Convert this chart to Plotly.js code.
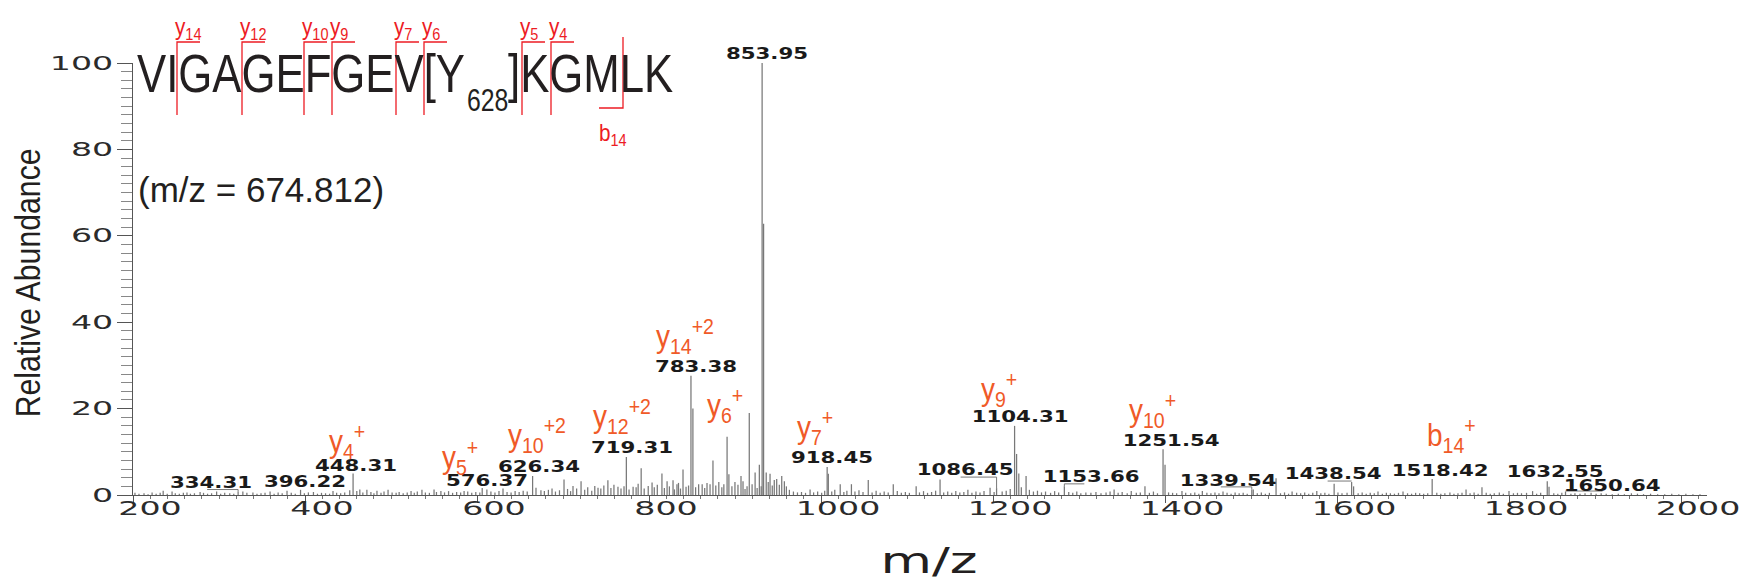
<!DOCTYPE html>
<html><head><meta charset="utf-8">
<script src="https://cdn.plot.ly/plotly-3.0.1.min.js"></script>
<style>body{margin:0;background:#fff}#chart{width:1741px;height:581px}</style>
</head><body><div id="chart"></div>
<script>
// ---------------- DATA ----------------
// labelled peaks (m/z, relative abundance %)
const labeledMz  = [334.31, 396.22, 448.31, 576.37, 626.34, 719.31, 783.38, 853.95, 918.45, 1086.45, 1104.31, 1153.66, 1251.54, 1339.54, 1438.54, 1518.42, 1632.55, 1650.64];
const labeledInt = [0.8, 1.2, 5.0, 1.6, 4.4, 8.8, 27.6, 100, 6.5, 1.6, 16, 2.0, 10.6, 1.3, 3.0, 3.7, 3.2, 0.8];
// other visible peaks
const otherMz = [232,249,260,268.8,283.6,296.6,313,339,349,366,382.8,409,428.4,445,452,455,462,472,483,505.8,516.6,528.6,535.4,558.4,581,597,629.7,634.6,645.6,657.5,666.4,674.4,688,691.2,701,711,726,734,741,744.8,754.6,759.7,765.6,769.5,775.5,778.5,785.3,794.5,799.3,802.3,805.2,819.2,821,833,837,841.2,847,851.2,855.4,858,861.8,868.4,873.4,876,901.5,919.6,931.4,942.5,959.2,984,1006.7,1030.4,1080,1106.3,1108.5,1115.7,1203,1233.6,1253.5,1270.3,1290.5,1311,1341,1363.6,1379.5,1404,1421.2,1440.5,1464.7,1489.5,1552,1567.8,1594.6,1612,1618,1634.3,1676,1716,1756];
const otherInt = [0.5,0.6,1.0,0.8,0.6,0.7,0.8,0.8,0.6,0.8,1.0,0.7,0.9,1.1,0.9,1.3,1.2,1.0,1.2,0.9,1.2,1.3,0.9,0.9,1.3,1.5,1.7,1.1,1.5,3.6,2.1,3.2,2.1,1.7,3.4,1.9,1.9,6.2,2.1,2.9,5.0,3.2,3.4,2.5,5.9,1.9,20,2.5,2.8,2.5,8.0,13.5,4.8,4.4,1.4,19,5.2,7.0,62.8,5.2,4.9,3.7,4.4,3.2,1.3,4.9,2.5,2.5,3.5,2.5,2.0,3.6,1.7,9.5,5.0,4.4,1.3,2.0,7.0,0.9,0.9,0.8,1.3,3.9,0.8,0.9,2.6,2.0,0.8,0.8,1.3,1.8,0.9,0.5,0.9,1.9,0.5,0.4,0.3];
// baseline grass
const noiseMz = [236,241,245,253,257,264,272,276,280,287,291,300,304,308,317,321,326,330,343,353,357,361,370,374,378,387,391,400,404,413,417,421,425,432,436,440,
 458,466,469,476,479,487,491,494,498,502,509,512,520,524,531,539,543,547,551,555,562,566,570,574,585,589,593,601,605,609,613,617,621,638,642,649,653,
 661,664,670,678,681,685,694,697,704,707,714,717,722,729,731,737,747,750,757,762,767,771,773,781,788,791,797,808,811,814,816,824,827,830,835,839,844,849,853,860,864,866,871,878,881,885,889,893,897,905,909,913,916,923,926,935,938,946,950,954,
 963,967,971,975,979,988,992,996,1000,1010,1014,1018,1022,1026,1034,1038,1042,1046,1050,1054,1058,1062,1066,1070,1074,1084,1092,1096,1100,1111,1119,1123,1127,1131,1135,1140,1144,1148,1158,1162,1166,1170,1175,1180,1185,1190,1195,1199,1207,1211,1216,1220,1225,1229,1238,1242,1246,1257,1261,1265,1274,1279,1283,1287,1295,1299,
 1303,1307,1315,1319,1323,1327,1331,1335,1345,1349,1353,1357,1368,1372,1376,1384,1388,1392,1396,1400,1408,1412,1416,1425,1429,1434,1445,1449,1453,1457,1461,1469,1473,1477,1481,1485,1494,1498,1502,1506,1510,1514,1523,1527,1531,1536,1540,1544,1548,1556,1560,1564,1572,1576,1580,1585,1589,1599,1603,1607,1622,1626,1639,1643,1647,1656,1660,1665,1670,1681,1686,1691,1697,1703,1709,1722,1728,1735,1742,1749,1763,1770,1777,1784];
const noiseInt = [.3,.4,.2,.3,.5,.3,.4,.3,.5,.3,.4,.5,.3,.4,.3,.5,.4,.3,.5,.3,.4,.5,.3,.6,.4,.5,.3,.4,.6,.3,.5,.4,.3,.5,.4,.6,
 .6,.7,.4,.5,.8,.6,.5,.7,.4,.6,.5,.8,.6,.5,.7,.6,.9,.5,.7,.6,.8,.5,.7,.6,.8,.6,.9,.7,.6,.9,.7,1.0,.8,.9,1.2,.8,1.1,
 1.4,.9,1.5,1.2,1.8,1.0,1.5,2.2,1.6,2.4,1.5,2.0,1.3,1.8,2.6,1.5,1.8,2.4,1.6,2.0,1.3,2.8,1.5,2.2,1.8,2.5,1.6,2.2,3.0,1.8,2.5,2.0,3.0,2.4,3.2,2.0,2.5,1.6,2.0,3.0,2.2,3.5,2.4,2.0,1.2,.8,.6,.7,.5,.6,.8,.5,1.0,.8,1.2,.7,1.0,.8,1.1,.7,
 .6,1.0,.5,.8,.6,.9,.5,.7,.5,.6,.9,.5,.7,1.0,.6,.8,.5,.9,.6,.7,1.2,.5,.8,.6,.9,.7,.8,1.0,1.4,1.8,1.2,.8,1.0,.6,.8,.5,.9,.6,.7,.5,.8,.4,.6,.5,.7,.4,.6,.8,.5,.7,.4,.9,.5,.6,.5,.8,.4,.6,.5,.4,.5,.4,.6,.3,.5,.4,
 .6,.4,.5,.3,.6,.4,.5,.3,.4,.6,.3,.5,.4,.6,.3,.5,.4,.6,.3,.5,.4,.5,.3,.6,.4,.5,.4,.6,.3,.5,.4,.3,.5,.4,.3,.5,.4,.3,.5,.4,.3,.4,.5,.3,.4,.6,.3,.4,.5,.4,.6,.3,.5,.3,.4,.6,.3,.4,.5,.4,.3,.5,.4,.3,.5,.3,.4,.3,.4,.3,.4,.3,.2,.3,.2,.3,.2,.3,.2,.2,.2,.3,.2,.2];
// fragment ion assignments (label, peak m/z, peak %)
const ionLabels = ['y<sub>4</sub><sup>+</sup>','y<sub>5</sub><sup>+</sup>','y<sub>10</sub><sup>+2</sup>','y<sub>12</sub><sup>+2</sup>','y<sub>14</sub><sup>+2</sup>','y<sub>6</sub><sup>+</sup>','y<sub>7</sub><sup>+</sup>','y<sub>9</sub><sup>+</sup>','y<sub>10</sub><sup>+</sup>','b<sub>14</sub><sup>+</sup>'];
const ionMz  = [448.31, 576.37, 626.34, 719.31, 783.38, 819.2, 918.45, 1104.31, 1251.54, 1518.42];
const ionInt = [5.0, 1.6, 4.4, 8.8, 27.6, 13.5, 6.5, 16, 10.6, 3.7];
// peptide and sequence fragment marks
const peptideParts = ['VIGAGEFGEV[Y', '628', ']KGMLK'];
const precursorText = '(m/z = 674.812)';
const seqYIons = ['y<sub>14</sub>','y<sub>12</sub>','y<sub>10</sub>','y<sub>9</sub>','y<sub>7</sub>','y<sub>6</sub>','y<sub>5</sub>','y<sub>4</sub>'];
const seqBIons = ['b<sub>14</sub>'];
const xTicks = [200,400,600,800,1000,1200,1400,1600,1800,2000];
const yTicks = [0,20,40,60,80,100];

// ---------------- LAYOUT HELPERS ----------------
const L=133, R=1707, T=63, B=495, W=R-L, H=B-T;
const px = v => (v-L)/W, py = v => (B-v)/H;
const ionColor = '#f05a28', bracketColor = '#ed1c24', peakColor = '#787878';
const arial = '"Liberation Sans", Arial, sans-serif';
const wide = '"DejaVu Sans", Verdana, sans-serif';
const xScale = 0.86, labelShift = 17;   // px per m/z unit on printed axis; label offset (px)

function sticks(ms, hs){ const x=[],y=[]; ms.forEach((m,i)=>{x.push(m,m,null);y.push(0,hs[i],null);}); return {x,y}; }
const allMz = noiseMz.concat(otherMz, labeledMz), allInt = noiseInt.concat(otherInt, labeledInt);
const s = sticks(allMz, allInt);
const hidden = {mode:'markers', marker:{opacity:0}, hoverinfo:'skip', showlegend:false, type:'scatter'};
const traces = [
  Object.assign({x:[xTicks[0]], y:[yTicks[0]], xaxis:'x', yaxis:'y'}, hidden),
  Object.assign({x:[xTicks[0]], y:[yTicks[0]], xaxis:'x3', yaxis:'y'}, hidden),
  {type:'scatter', mode:'lines', x:s.x, y:s.y, xaxis:'x2', yaxis:'y', line:{color:peakColor, width:1.25}, hoverinfo:'skip', showlegend:false}
];

const annotations = [], stretchSpec = [], shapes = [];
function addAnn(a, factor, anchor){ annotations.push(a); stretchSpec.push(factor ? [factor, anchor] : null); }

// numeric peak labels: offsets (px) of label centre from peak top
const labDx = [-27, 4, 3, 5, 6, 6, 5, 5, 5, -32, 5, 27, 8, -24, -19, 8, 8, 46];
const labDy = [9, 8, 7, 7, 9, 9, 9, 9, 9, 18, 9, 9, 8, 8, 8, 8, 9, 6];
labeledMz.forEach((m,i)=>{
  addAnn({xref:'x2', yref:'y', x:m, y:labeledInt[i], text:m.toFixed(2), showarrow:false,
    xanchor:'center', yanchor:'middle', xshift:labDx[i], yshift:labDy[i],
    font:{family:wide, size:15, color:'#1a1a1a', weight:700}}, 1.42, 'middle');
});
// leader lines for offset labels: [index, x0, x1, y]
const leaders = [[0,-31,0,2],[9,-36,0,11],[11,0,20,2.5],[13,-31,0,2.5],[14,-24,0,1],[17,0,37,0.5]];
leaders.forEach(([i,x0,x1,y])=>{
  const base={type:'line', xref:'x2', yref:'y', xsizemode:'pixel', ysizemode:'pixel', xanchor:labeledMz[i], yanchor:labeledInt[i], line:{color:peakColor,width:1}};
  shapes.push(Object.assign({},base,{x0:x0,x1:x1,y0:y,y1:y}));
  if(y>1) shapes.push(Object.assign({},base,{x0:0,x1:0,y0:0,y1:y}));
});
// ion labels
const ionDx = [-26,-42,-27,-35,-37,-22,-32,-36,-36,-7];
const ionDy = [27,26,35,35,34,26,34,31,34,39];
ionLabels.forEach((t,i)=>{
  addAnn({xref:'x2', yref:'y', x:ionMz[i], y:ionInt[i], text:t, showarrow:false,
    xanchor:'left', yanchor:'middle', xshift:ionDx[i], yshift:ionDy[i]+5,
    font:{family:arial, size:31, color:ionColor}}, 0.9, 'start');
});
// peptide sequence (condensed face emulated)
addAnn({xref:'paper', yref:'paper', x:px(135), y:py(74), text:peptideParts[0], showarrow:false,
  xanchor:'left', yanchor:'middle', font:{family:arial, size:53, color:'#231f20'}}, 0.825, 'start');
addAnn({xref:'paper', yref:'paper', x:px(465), y:py(101), text:peptideParts[1], showarrow:false,
  xanchor:'left', yanchor:'middle', font:{family:arial, size:31, color:'#231f20'}}, 0.8, 'start');
addAnn({xref:'paper', yref:'paper', x:px(506), y:py(74), text:peptideParts[2], showarrow:false,
  xanchor:'left', yanchor:'middle', font:{family:arial, size:53, color:'#231f20'}}, 0.825, 'start');
addAnn({xref:'paper', yref:'paper', x:px(136), y:py(189), text:precursorText, showarrow:false,
  xanchor:'left', yanchor:'middle', font:{family:arial, size:35, color:'#231f20'}});
// sequence brackets
const yCut = [177,242,304,332,396,424,522,551];
yCut.forEach((c,i)=>{
  shapes.push({type:'path', xref:'paper', yref:'paper',
    path:`M ${px(c)} ${py(115)} L ${px(c)} ${py(42)} L ${px(c+23)} ${py(42)}`, line:{color:bracketColor,width:1.3}});
  addAnn({xref:'paper', yref:'paper', x:px(c-4), y:py(29), text:seqYIons[i], showarrow:false,
    xanchor:'left', yanchor:'middle', font:{family:arial, size:23, color:bracketColor}}, 0.9, 'start');
});
shapes.push({type:'path', xref:'paper', yref:'paper',
  path:`M ${px(623)} ${py(37)} L ${px(623)} ${py(108)} L ${px(599)} ${py(108)}`, line:{color:bracketColor,width:1.3}});
addAnn({xref:'paper', yref:'paper', x:px(597), y:py(134), text:seqBIons[0], showarrow:false,
  xanchor:'left', yanchor:'middle', font:{family:arial, size:23, color:bracketColor}}, 0.9, 'start');
// axis titles
addAnn({xref:'paper', yref:'paper', x:px(27), y:py(283), text:'Relative Abundance', showarrow:false,
  textangle:-90, xanchor:'center', yanchor:'middle', font:{family:arial, size:36, color:'#231f20'}}, 0.84, 'middle');
addAnn({xref:'paper', yref:'paper', x:px(929), y:py(560), text:'m/z', showarrow:false,
  xanchor:'center', yanchor:'middle', font:{family:wide, size:36, color:'#231f20'}}, 1.47, 'middle');

const tickFont = {family:wide, size:19, color:'#2b2b2b'};
const layout = {
  width:1741, height:581, margin:{l:L, r:1741-R, t:T, b:581-B},
  paper_bgcolor:'#fff', plot_bgcolor:'#fff', showlegend:false,
  // printed axis: tick marks
  xaxis:{range:[xTicks[0], xTicks[0]+W/xScale], tickvals:xTicks, ticks:'outside', ticklen:7, tickcolor:'#555', showticklabels:false,
    showline:true, linecolor:'#555', linewidth:1, showgrid:false, zeroline:false,
    minor:{dtick:20, ticklen:3, tickcolor:'#777', ticks:'outside'}},
  // printed axis: tick labels (set slightly right of their marks, as in the original)
  xaxis3:{overlaying:'x', anchor:'y', range:[xTicks[0]-labelShift/xScale, xTicks[0]-labelShift/xScale+W/xScale], tickvals:xTicks,
    ticks:'', showline:false, showgrid:false, zeroline:false, tickfont:tickFont},
  // spectrum axis
  xaxis2:{overlaying:'x', anchor:'y', range:[(L+99)/1.0084, (R+99)/1.0084], visible:false},
  yaxis:{range:[0,100], tickvals:yTicks, ticks:'outside', ticklen:15, tickcolor:'#555', showline:true, linecolor:'#555', linewidth:1,
    showgrid:false, zeroline:false, minor:{dtick:2, ticklen:11, tickcolor:'#888', ticks:'outside'}, tickfont:tickFont},
  annotations, shapes
};

// horizontal stretch of rendered glyphs to emulate extended / condensed typefaces
function stretch(el, f, anchor){
  const bb = el.getBBox();
  const ax = anchor==='start' ? bb.x : anchor==='end' ? bb.x+bb.width : bb.x+bb.width/2;
  const prev = el.getAttribute('transform') || '';
  el.setAttribute('transform', (prev+' ').trim()+` matrix(${f},0,0,1,${(1-f)*ax},0)`);
}
Plotly.newPlot('chart', traces, layout, {staticPlot:true, displayModeBar:false}).then(gd=>{
  gd.querySelectorAll('.annotation').forEach(g=>{
    const i = +g.getAttribute('data-index'); const sp = stretchSpec[i];
    const t = g.querySelector('text.annotation-text');
    if(sp && t) stretch(t, sp[0], sp[1]);
  });
  gd.querySelectorAll('g.x3tick text').forEach(t=>stretch(t, 1.75, 'middle'));
  gd.querySelectorAll('g.ytick text').forEach(t=>stretch(t, 1.75, 'end'));
});
</script></body></html>
